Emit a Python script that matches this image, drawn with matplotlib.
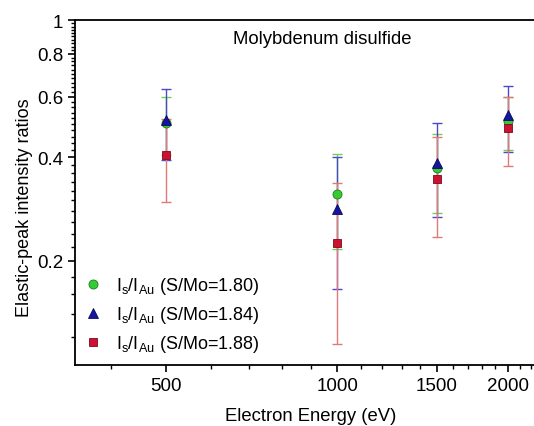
import matplotlib
matplotlib.use("Agg")
import matplotlib.pyplot as plt
from matplotlib.ticker import FixedLocator, FixedFormatter, NullFormatter
import numpy as np

plt.rcParams['font.family'] = ['Liberation Sans', 'DejaVu Sans']
plt.rcParams['mathtext.fontset'] = 'custom'
plt.rcParams['mathtext.rm'] = 'Liberation Sans'

energy = [500, 1000, 1500, 2000]

ratio_180 = [0.502, 0.313, 0.372, 0.510]
err_180 = [0.096, 0.096, 0.096, 0.090]
ratio_184 = [0.514, 0.284, 0.385, 0.531]
err_184 = [0.120, 0.118, 0.117, 0.115]
ratio_188 = [0.407, 0.226, 0.346, 0.488]
err_188 = [0.110, 0.111, 0.111, 0.110]

labels = [r'I$_\mathrm{s}$/I$_\mathrm{Au}$ (S/Mo=1.80)',
          r'I$_\mathrm{s}$/I$_\mathrm{Au}$ (S/Mo=1.84)',
          r'I$_\mathrm{s}$/I$_\mathrm{Au}$ (S/Mo=1.88)']

fig = plt.figure(figsize=(5.34, 4.27), dpi=100)
ax = fig.add_axes([0.1404, 0.144, 0.875, 0.8057])
ax.set_xscale('log')
ax.set_yscale('log')

ax.errorbar(energy, ratio_180, yerr=err_180, fmt='none', ecolor='#77cc55', elinewidth=1, capsize=3.5, capthick=1)
ax.errorbar(energy, ratio_184, yerr=err_184, fmt='none', ecolor='#4a4ac8', elinewidth=1, capsize=3.5, capthick=1)
ax.errorbar(energy, ratio_188, yerr=err_188, fmt='none', ecolor='#e07a7a', elinewidth=1, capsize=3.5, capthick=1)

ax.plot(energy, ratio_180, 'o', ms=6.5, mfc='#33cc33', mec='#1f7a1f', mew=0.6, label=labels[0])
ax.plot(energy, ratio_184, '^', ms=7, mfc='#1515a0', mec='#0a0a60', mew=0.6, label=labels[1])
ax.plot(energy, ratio_188, 's', ms=6, mfc='#cc1133', mec='#7a0a1a', mew=0.6, label=labels[2])

ax.set_xlim(345, 2300)
ax.set_ylim(0.1, 1)

ax.xaxis.set_major_locator(FixedLocator([500, 1000, 1500, 2000]))
ax.xaxis.set_major_formatter(FixedFormatter(['500', '1000', '1500', '2000']))
ax.xaxis.set_minor_locator(FixedLocator(np.arange(400, 2300, 100)))
ax.xaxis.set_minor_formatter(NullFormatter())

ax.yaxis.set_major_locator(FixedLocator([0.2, 0.4, 0.6, 0.8, 1.0]))
ax.yaxis.set_major_formatter(FixedFormatter(['0.2', '0.4', '0.6', '0.8', '1']))
ax.yaxis.set_minor_locator(FixedLocator(np.arange(0.12, 1.0, 0.02)))
ax.yaxis.set_minor_formatter(NullFormatter())

ax.tick_params(which='major', direction='out', length=5, width=1.2, labelsize=13.5, top=False, right=False)
ax.tick_params(which='minor', direction='out', length=3, width=1, top=False, right=False)
ax.tick_params(axis='x', which='major', pad=4)
for s in ['left', 'bottom', 'top']:
    ax.spines[s].set_linewidth(1.3)
ax.spines['right'].set_visible(False)

fig.text(0.582, 0.024, 'Electron Energy (eV)', fontsize=13.3, ha='center', va='center')
fig.text(0.045, 0.513, 'Elastic-peak intensity ratios', fontsize=13, ha='center', va='center', rotation=90)
fig.text(0.603, 0.907, 'Molybdenum disulfide', fontsize=13.3, ha='center', va='center')

ax.legend(loc='lower left', bbox_to_anchor=(-0.016, -0.018), frameon=False, fontsize=13,
          handlelength=1.0, handletextpad=0.8, labelspacing=0.45, numpoints=1)

fig.savefig('out.png', dpi=100)
